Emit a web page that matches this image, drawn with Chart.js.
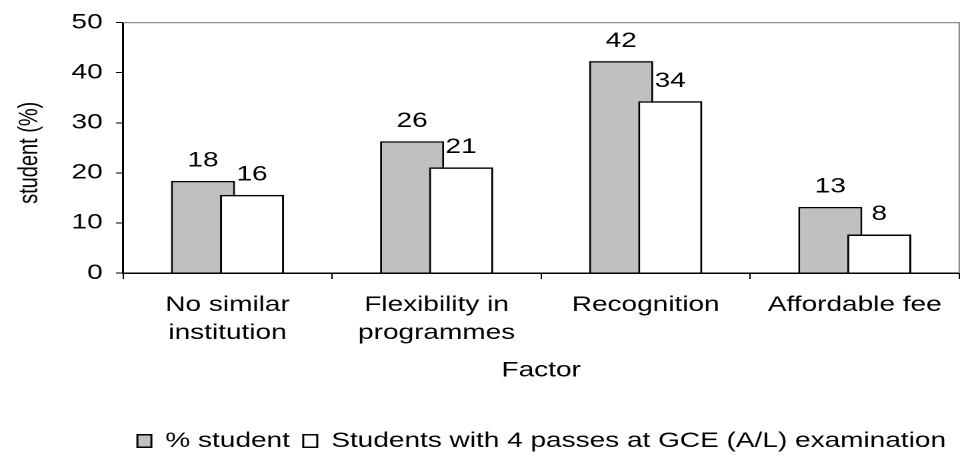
<!DOCTYPE html>
<html>
<head>
<meta charset="utf-8">
<script src="https://cdn.jsdelivr.net/npm/chart.js@4/dist/chart.umd.min.js"></script>
<style>
    html, body { margin: 0; padding: 0; background: #fff; }
    /* chart is drawn 720 wide and shown 960 wide: the source figure is stretched sideways */
    #factorChart { display: block; width: 960px; height: 474px; }
</style>
</head>
<body>
<canvas id="factorChart" width="720" height="474" style="width:960px;height:474px"></canvas>
<script>
// Categories (multi-line tick labels)
const factors = [
    ["No similar", "institution"],
    ["Flexibility in", "programmes"],
    "Recognition",
    "Affordable fee"
];

// Series values
const pctStudent = [18.4, 26.3, 42.3, 13.2];
const fourPasses = [15.6, 21.1, 34.3, 7.7];

const seriesNames = ["% student", "Students with 4 passes at GCE (A/L) examination"];

// Axis texts and range
const xTitle = "Factor";
const yTitle = "student (%)";
const yMin = 0;
const yMax = 50;
const yStep = 10;

const fontFamily = "'Liberation Sans', Arial, sans-serif";

// White bars sit on top of the grey ones, then the value labels and the frame
const overlapPlugin = {
    id: "overlapPlugin",
    afterDatasetsDraw(chart) {
        const ctx = chart.ctx;
        const area = chart.chartArea;

        // redraw the second series so it overlaps the first
        chart.getDatasetMeta(1).data.forEach(bar => bar.draw(ctx));

        // grey frame on top and right side
        ctx.save();
        ctx.strokeStyle = "#8c8c8c";
        ctx.lineWidth = 1.2;
        ctx.beginPath();
        ctx.moveTo(area.left, area.top);
        ctx.lineTo(area.right, area.top);
        ctx.lineTo(area.right, area.bottom);
        ctx.stroke();

        // value labels above each bar
        ctx.fillStyle = "#000";
        ctx.font = "21px " + fontFamily;
        ctx.textAlign = "center";
        ctx.textBaseline = "middle";
        chart.data.datasets.forEach((ds, i) => {
            chart.getDatasetMeta(i).data.forEach((bar, j) => {
                ctx.fillText(String(Math.round(ds.data[j])), bar.x, bar.y - 20);
            });
        });

        // rotated y axis title
        ctx.font = "20px " + fontFamily;
        ctx.translate(22.5, (area.top + area.bottom) / 2 + 5);
        ctx.rotate(-Math.PI / 2);
        ctx.fillText(yTitle, 0, 0);
        ctx.restore();
    }
};

const chart = new Chart(document.getElementById("factorChart"), {
    type: "bar",
    data: {
        labels: factors,
        datasets: [
            {
                label: seriesNames[0],
                data: pctStudent,
                backgroundColor: "#c0c0c0",
                borderColor: "#000",
                borderWidth: 1.5
            },
            {
                label: seriesNames[1],
                data: fourPasses,
                backgroundColor: "#ffffff",
                borderColor: "#000",
                borderWidth: 1.5
            }
        ]
    },
    options: {
        responsive: false,
        animation: false,
        devicePixelRatio: 2,
        categoryPercentage: 0.469,
        barPercentage: 1.306,
        layout: { padding: { top: 17, bottom: 12.5, left: 0, right: 0.5 } },
        plugins: {
            tooltip: { enabled: false },
            legend: {
                position: "bottom",
                align: "end",
                labels: {
                    color: "#000",
                    font: { family: fontFamily, size: 21 },
                    boxWidth: 10.5,
                    boxHeight: 12.5,
                    padding: 10
                }
            }
        },
        scales: {
            x: {
                offset: true,
                grid: { offset: true, drawOnChartArea: false, tickLength: 6, color: "#000", lineWidth: 1 },
                border: { color: "#000", width: 1.5 },
                ticks: {
                    color: "#000",
                    font: { family: fontFamily, size: 21, lineHeight: 28 / 21 },
                    padding: 12,
                    maxRotation: 0,
                    autoSkip: false
                },
                title: {
                    display: true,
                    text: xTitle,
                    color: "#000",
                    font: { family: fontFamily, size: 21 },
                    padding: { top: 0, bottom: 37 }
                },
                afterFit(scale) { scale.height = 147.5; }
            },
            y: {
                min: yMin,
                max: yMax,
                grid: { drawOnChartArea: false, tickLength: 5.25, color: "#000", lineWidth: 1 },
                border: { color: "#000", width: 1.5 },
                ticks: {
                    stepSize: yStep,
                    color: "#000",
                    font: { family: fontFamily, size: 21 },
                    padding: 10
                },
                afterFit(scale) { scale.width = 92.25; }
            }
        }
    },
    plugins: [overlapPlugin]
});
</script>
</body>
</html>
